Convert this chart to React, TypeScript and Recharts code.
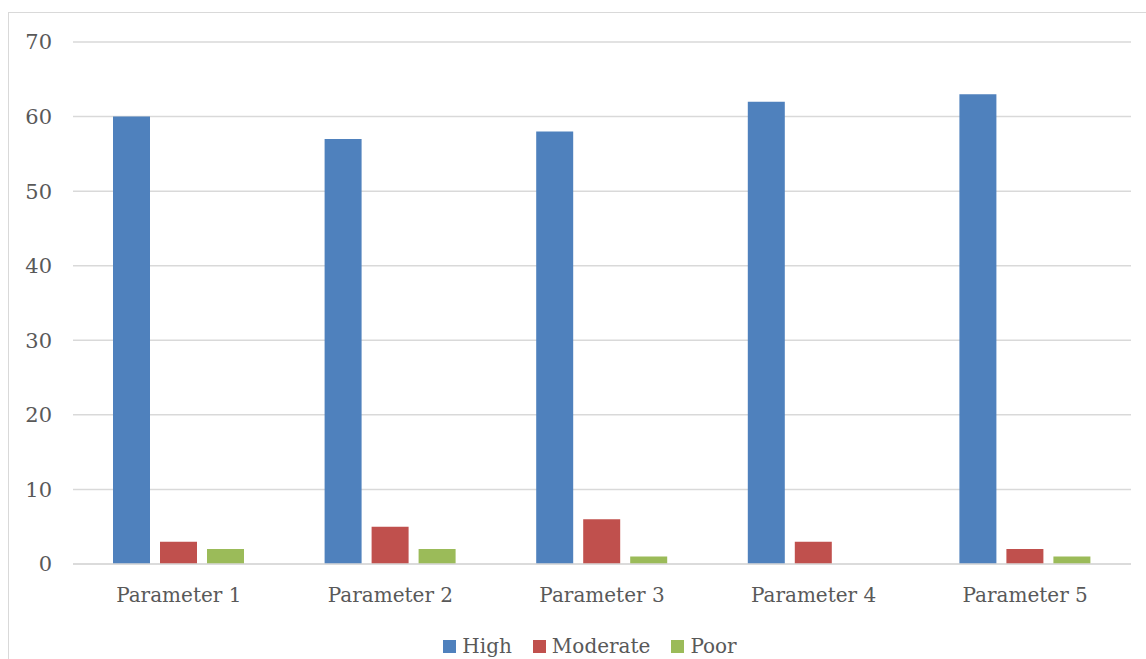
import React from 'react';
import { BarChart, Bar, XAxis, YAxis, CartesianGrid, Legend } from 'recharts';

const CATEGORIES = ['Parameter 1', 'Parameter 2', 'Parameter 3', 'Parameter 4', 'Parameter 5'];
const HIGH = [60, 57, 58, 62, 63];
const MODERATE = [3, 5, 6, 3, 2];
const POOR = [2, 2, 1, 0, 1];
const Y_TICKS = [0, 10, 20, 30, 40, 50, 60, 70];

const data = CATEGORIES.map((name, i) => ({
  name,
  high: HIGH[i],
  moderate: MODERATE[i],
  poor: POOR[i],
}));

const FONT = '"DejaVu Serif", serif';
const TEXT = '#595959';
const GRID = '#D9D9D9';

const LegendContent = (props: any) => {
  const { payload = [] } = props;
  return (
    <div style={{ display: 'flex', justifyContent: 'center', height: 28, paddingTop: 3, paddingLeft: 26, boxSizing: 'border-box', lineHeight: '25px', fontFamily: FONT, fontSize: 20, color: TEXT }}>
      {payload.map((p: any, i: number) => (
        <div key={i} style={{ display: 'flex', alignItems: 'center', marginRight: i < payload.length - 1 ? 21 : 0 }}>
          <span style={{ display: 'inline-block', width: 13, height: 13, background: p.color, marginRight: 6 }} />
          <span>{p.value}</span>
        </div>
      ))}
    </div>
  );
};

export default function App() {
  return (
    <div style={{ position: 'absolute', left: 8, top: 12, border: `1px solid ${GRID}`, background: '#fff' }}>
      <BarChart
        width={1150}
        height={660}
        data={data}
        margin={{ top: 29, right: 28, bottom: 14, left: 14 }}
        barCategoryGap={40}
        barGap={10}
      >
        <CartesianGrid vertical={false} stroke={GRID} strokeWidth={1.5} />
        <XAxis
          dataKey="name"
          height={67}
          axisLine={{ stroke: GRID, strokeWidth: 1.5 }}
          tickLine={false}
          tickSize={0}
          tickMargin={24}
          tick={{ fill: TEXT, fontSize: 20, fontFamily: FONT }}
        />
        <YAxis
          width={50}
          domain={[0, 70]}
          ticks={Y_TICKS}
          axisLine={false}
          tickLine={false}
          tickSize={0}
          tickMargin={21}
          tick={{ fill: TEXT, fontSize: 21, fontFamily: FONT }}
        />
        <Legend verticalAlign="bottom" height={28} content={<LegendContent />} />
        <Bar dataKey="high" name="High" fill="#4F81BD" isAnimationActive={false} />
        <Bar dataKey="moderate" name="Moderate" fill="#C0504D" isAnimationActive={false} />
        <Bar dataKey="poor" name="Poor" fill="#9BBB59" isAnimationActive={false} />
      </BarChart>
    </div>
  );
}
